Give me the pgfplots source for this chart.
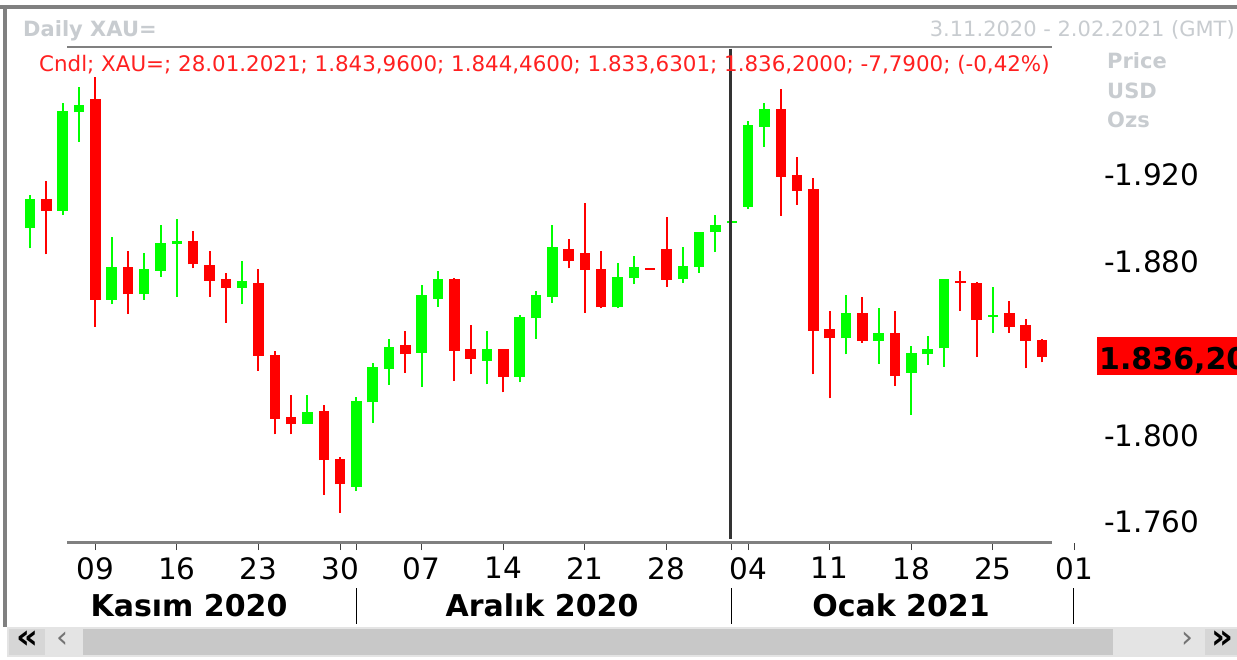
\documentclass[border=0pt]{standalone}
\usepackage{pgfplots}
\usepackage{pgfplotstable}
\pgfplotsset{compat=1.18}
\usepackage{fontspec}
\setmainfont{DejaVu Sans}
\definecolor{cgreen}{RGB}{0,255,0}
\definecolor{cred}{RGB}{255,0,0}
\definecolor{txtred}{RGB}{255,32,32}
\definecolor{ltgray}{RGB}{200,204,208}
\definecolor{lngray}{RGB}{128,128,128}
\definecolor{track}{RGB}{228,228,228}
\definecolor{thumb}{RGB}{200,200,200}
\definecolor{btn}{RGB}{214,214,214}

% rising candles: day index, open, high, low, close
\pgfplotstableread{
x o h l c
0 1895.4 1910.8 1886.2 1908.8
2 1903.5 1953.3 1901.6 1949.5
3 1948.9 1960.4 1935.4 1952.3
5 1862.4 1891.3 1860.4 1877.4
7 1865.0 1884.2 1862.4 1876.7
8 1875.9 1897.0 1873.1 1888.5
9 1888.1 1899.6 1863.9 1889.6
13 1867.8 1880.4 1860.4 1871.1
17 1805.1 1818.6 1805.1 1810.9
20 1776.3 1817.5 1774.3 1815.8
21 1815.2 1833.2 1805.8 1831.6
22 1830.7 1844.3 1823.2 1840.7
24 1838.1 1869.3 1822.4 1864.5
25 1862.8 1875.7 1859.3 1872.1
28 1834.4 1848.1 1823.5 1839.6
30 1827.0 1855.5 1824.4 1854.4
31 1853.9 1866.5 1844.4 1864.7
32 1863.9 1897.0 1861.1 1886.7
36 1859.0 1879.3 1858.5 1872.8
37 1872.4 1882.8 1869.6 1877.4
40 1872.0 1887.0 1870.3 1878.2
41 1877.7 1893.9 1875.0 1893.9
42 1893.6 1901.6 1884.4 1896.9
43 1897.7 1898.3 1897.7 1898.3
44 1905.4 1944.9 1904.3 1943.0
45 1942.3 1953.0 1933.0 1950.3
50 1844.7 1864.7 1837.3 1856.2
52 1843.6 1858.5 1832.9 1847.0
54 1828.9 1841.3 1809.4 1837.8
55 1837.3 1845.9 1832.4 1839.8
56 1840.1 1872.1 1831.6 1872.1
59 1854.7 1868.2 1847.3 1855.6
}\up

% falling candles
\pgfplotstableread{
x o h l c
1 1908.8 1917.2 1883.4 1903.5
4 1954.9 1965.0 1850.1 1862.4
6 1877.4 1885.0 1855.8 1865.0
10 1889.6 1894.2 1877.0 1878.8
11 1878.5 1885.0 1863.9 1871.3
12 1872.0 1875.0 1851.9 1867.8
14 1870.1 1876.7 1829.8 1836.6
15 1837.0 1838.9 1800.4 1807.7
16 1808.3 1818.6 1800.4 1805.1
18 1811.2 1814.0 1772.5 1788.6
19 1789.1 1789.8 1764.3 1777.4
23 1841.6 1848.1 1828.9 1837.3
26 1872.1 1872.3 1825.0 1839.0
27 1839.8 1850.8 1828.1 1835.3
29 1839.6 1839.8 1819.8 1827.0
33 1885.7 1890.5 1877.0 1880.5
34 1884.2 1907.2 1856.5 1876.2
35 1876.5 1885.0 1858.5 1859.0
38 1876.8 1876.8 1876.2 1876.2
39 1885.9 1900.8 1868.5 1871.6
46 1950.3 1959.5 1901.1 1919.2
47 1920.0 1928.4 1906.2 1912.8
48 1913.5 1918.5 1828.1 1848.2
49 1849.0 1857.4 1817.0 1844.7
51 1856.2 1863.9 1842.7 1843.6
53 1847.0 1857.4 1822.7 1827.5
57 1871.3 1875.7 1857.4 1870.3
58 1870.1 1870.8 1836.2 1853.1
60 1856.5 1861.9 1847.3 1850.1
61 1850.8 1853.6 1830.9 1843.6
62 1843.96 1844.46 1833.63 1836.20
}\down

\begin{document}
\begin{tikzpicture}
\useasboundingbox (0,0) rectangle (1237pt,659pt);
\clip (0,0) rectangle (1237pt,659pt);
\fill[white] (0,0) rectangle (1237pt,659pt);

\begin{axis}[
  at={(20pt,116pt)}, anchor=south west,
  scale only axis, width=1070pt, height=495pt,
  xmin=-0.6127, xmax=64.95, ymin=1750.34, ymax=1978.55,
  axis line style={draw=none},
  clip=false,
  xtick={4,9,14,19,24,29,34,39,44,49,54,59,64},
  xticklabels={09,16,23,30,07,14,21,28,04,11,18,25,01},
  extra x ticks={20,43}, extra x tick labels={,},
  xtick pos=left, ytick pos=right, yticklabel pos=right,
  tick align=outside, major tick length=7pt,
  x tick style={draw=black!75, line width=1pt},
  y tick style={draw=none},
  ytick={1760,1800,1880,1920},
  yticklabels={-1.760,-1.800,-1.880,-1.920},
  xticklabel style={font=\fontsize{29.5}{30}\selectfont, anchor=north, inner sep=0pt, yshift=-7pt},
  yticklabel style={font=\fontsize{29.5}{30}\selectfont, anchor=west, inner sep=0pt, xshift=7pt},
  candle/.style={draw=none, no markers, forget plot,
    error bars/.cd, y dir=plus, y explicit, error mark=none},
]
% wicks
\addplot[candle, error bar style={draw=cgreen, line width=2pt}]
  table[x=x, y=l, y error plus expr={\thisrow{h}-\thisrow{l}}] {\up};
\addplot[candle, error bar style={draw=cred, line width=2pt}]
  table[x=x, y=l, y error plus expr={\thisrow{h}-\thisrow{l}}] {\down};
% bodies
\addplot[candle, error bar style={draw=cgreen, line width=10.5pt}]
  table[x=x, y=o, y error plus expr={max(\thisrow{c}-\thisrow{o},0.9)}] {\up};
\addplot[candle, error bar style={draw=cred, line width=10.5pt}]
  table[x=x, y=c, y error plus expr={max(\thisrow{o}-\thisrow{c},0.9)}] {\down};
% cursor line
\draw[line width=3pt, color=black!80] (axis cs:42.89,1978.3) -- (axis cs:42.89,1752.0);
\end{axis}

\begin{scope}[x=1pt,y=1pt]
% frame
\fill[lngray] (0,650) rectangle (1237,654);
\fill[lngray] (3,32) rectangle (7,654);
% header
\node[anchor=base west, inner sep=0pt, text=ltgray, font=\bfseries\fontsize{21}{24}\selectfont] at (23,622) {Daily XAU=};
\node[anchor=base east, inner sep=0pt, text=ltgray, font=\fontsize{21}{24}\selectfont] at (1235,622) {3.11.2020 - 2.02.2021 (GMT)};
\draw[line width=2.5pt, lngray] (67,612) -- (1052,612);
\node[anchor=base west, inner sep=0pt, text=txtred, font=\fontsize{21.4}{24}\selectfont] at (39,587) {Cndl; XAU=; 28.01.2021; 1.843,9600; 1.844,4600; 1.833,6301; 1.836,2000; -7,7900; (-0,42\%)};
\node[anchor=base west, inner sep=0pt, text=ltgray, font=\bfseries\fontsize{21}{24}\selectfont] at (1107,590) {Price};
\node[anchor=base west, inner sep=0pt, text=ltgray, font=\bfseries\fontsize{21}{24}\selectfont] at (1107,560) {USD};
\node[anchor=base west, inner sep=0pt, text=ltgray, font=\bfseries\fontsize{21}{24}\selectfont] at (1107,531) {Ozs};
% bottom axis line
\draw[line width=3pt, lngray] (67,116) -- (1052,116);
% last price box
\fill[cred] (1097,284) rectangle (1240,322);
\node[anchor=base west, inner sep=0pt, font=\bfseries\fontsize{30}{32}\selectfont] at (1099,289) {1.836,20};
% month separators
\draw[line width=1pt, black] (356,71) -- (356,35);
\draw[line width=1pt, black] (731.5,71) -- (731.5,35);
\draw[line width=1pt, black] (1073.5,71) -- (1073.5,35);
\node[anchor=base, inner sep=0pt, font=\bfseries\fontsize{30}{32}\selectfont] at (189,43) {Kasım 2020};
\node[anchor=base, inner sep=0pt, font=\bfseries\fontsize{30}{32}\selectfont] at (542,43) {Aralık 2020};
\node[anchor=base, inner sep=0pt, font=\bfseries\fontsize{30}{32}\selectfont] at (901,43) {Ocak 2021};
% scrollbar
\fill[track] (7,2) rectangle (1237,32);
\fill[btn] (9,4) rectangle (45,30);
\fill[btn] (1205,4) rectangle (1237,30);
\fill[thumb] (83,4) rectangle (1113,30);
\node[inner sep=0pt, font=\bfseries\fontsize{34}{34}\selectfont] at (27,19) {«};
\node[inner sep=0pt, text=black!55, font=\fontsize{30}{30}\selectfont] at (62,19) {‹};
\node[inner sep=0pt, text=black!55, font=\fontsize{30}{30}\selectfont] at (1187,19) {›};
\node[inner sep=0pt, font=\bfseries\fontsize{34}{34}\selectfont] at (1222,19) {»};
\end{scope}
\end{tikzpicture}
\end{document}
